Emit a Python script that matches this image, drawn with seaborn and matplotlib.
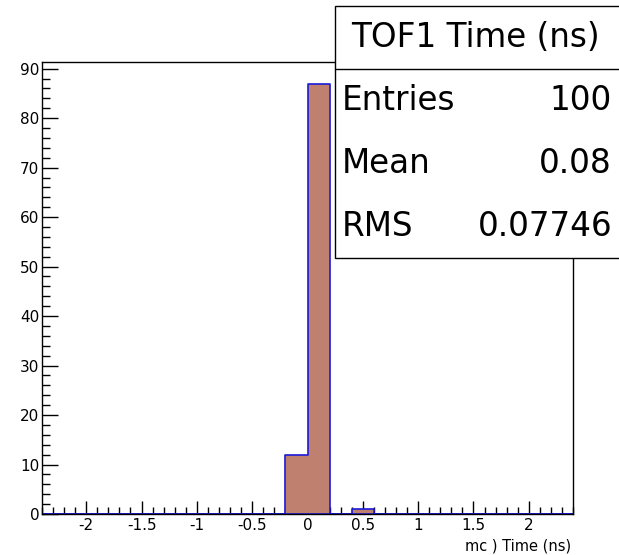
import numpy as np
import pandas as pd
import seaborn as sns
import matplotlib
matplotlib.use("Agg")
import matplotlib.pyplot as plt
from matplotlib.patches import Rectangle
from matplotlib.ticker import MultipleLocator

# ---- data ----
bin_edges = [round(-2.4 + 0.2 * i, 1) for i in range(25)]
bin_centers = [-0.1, 0.1, 0.5]
bin_counts = [12, 87, 1]
x_ticks = [-2, -1.5, -1, -0.5, 0, 0.5, 1, 1.5, 2]
x_tick_labels = ["-2", "-1.5", "-1", "-0.5", "0", "0.5", "1", "1.5", "2"]
y_ticks = [0, 10, 20, 30, 40, 50, 60, 70, 80, 90]
stats_title = "TOF1 Time (ns)"
stats_names = ["Entries", "Mean", "RMS"]
stats_values = ["100", "0.08", "0.07746"]
x_label = "mc ) Time (ns)"

df = pd.DataFrame({"t": bin_centers, "n": bin_counts})

sns.set_theme(style="white")
plt.rcParams["font.family"] = ["DejaVu Sans"]
plt.rcParams["text.color"] = "black"
plt.rcParams["xtick.color"] = "black"
plt.rcParams["ytick.color"] = "black"
plt.rcParams["xtick.labelcolor"] = "black"
plt.rcParams["ytick.labelcolor"] = "black"

W, H = 619, 555
fig = plt.figure(figsize=(W / 100, H / 100), dpi=100)
L, R, T, B = 42, 573, 62, 514
ax = fig.add_axes([L / W, (H - B) / H, (R - L) / W, (B - T) / H])

sns.histplot(data=df, x="t", weights="n", bins=bin_edges, element="step",
             fill=True, color="#c0806f", alpha=1.0, edgecolor="#1a1ad8",
             linewidth=1.2, ax=ax)

ax.set_xlim(-2.4, 2.4)
ax.set_ylim(0, 91.35)
ax.set_xticks(x_ticks)
ax.set_xticklabels(x_tick_labels)
ax.set_yticks(y_ticks)
ax.xaxis.set_minor_locator(MultipleLocator(0.1))
ax.yaxis.set_minor_locator(MultipleLocator(2))
ax.tick_params(axis="x", which="major", direction="in", length=9.5, width=1,
               color="black", labelsize=11, pad=3, bottom=True, top=False,
               labelcolor="black")
ax.tick_params(axis="x", which="minor", direction="in", length=5, width=1,
               color="black", bottom=True, top=False)
ax.tick_params(axis="y", which="major", direction="in", length=11.5, width=1,
               color="black", labelsize=11, pad=2, left=True, right=False,
               labelcolor="black")
ax.tick_params(axis="y", which="minor", direction="in", length=5.8, width=1,
               color="black", left=True, right=False)
for s in ax.spines.values():
    s.set_color("black")
    s.set_linewidth(1.0)
ax.set_xlabel("")
ax.set_ylabel("")

fig.text(571 / W, 1 - 546 / H, x_label, ha="right", va="center",
         fontsize=10.5, color="black")

# stats box (figure pixel coords, y from top)
def fy(y):
    return 1 - y / H

bx0, bx1, by0, by1, sep = 335, 622, 6, 258, 69
fig.patches.append(Rectangle((bx0 / W, fy(by1)), (bx1 - bx0) / W, (by1 - by0) / H,
                             transform=fig.transFigure, facecolor="white",
                             edgecolor="black", linewidth=1.0, zorder=5))
fig.add_artist(plt.Line2D([bx0 / W, bx1 / W], [fy(sep), fy(sep)],
                          transform=fig.transFigure, color="black",
                          linewidth=1.0, zorder=6))
fs = 23.5
fig.text(475 / W, fy(37.5), stats_title, ha="center", va="center",
         fontsize=fs, zorder=7, color="black")
rows_y = [100.5, 163.5, 226.5]
for name, val, yy in zip(stats_names, stats_values, rows_y):
    fig.text(342 / W, fy(yy), name, ha="left", va="center", fontsize=fs,
             zorder=7, color="black")
    fig.text(612 / W, fy(yy), val, ha="right", va="center", fontsize=fs,
             zorder=7, color="black")

fig.savefig("out.png", dpi=100)
